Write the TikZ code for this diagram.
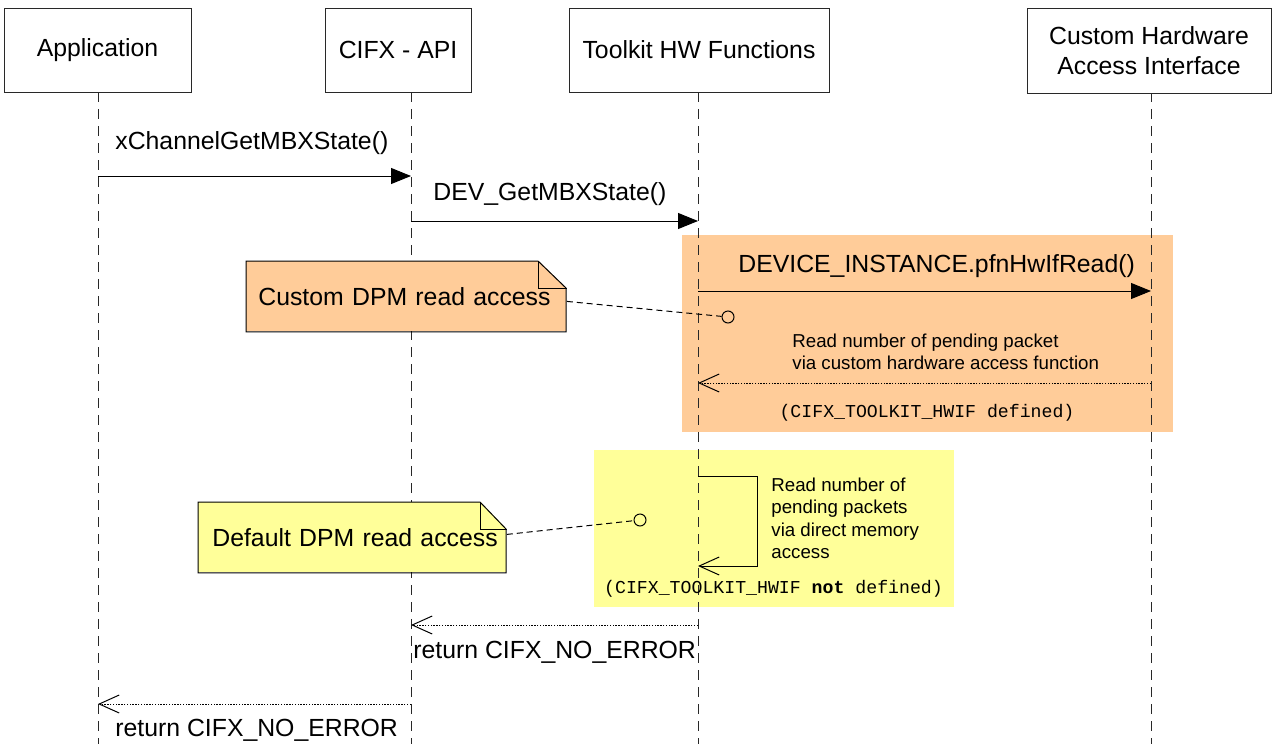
\documentclass[tikz,border=0pt]{standalone}
\usepackage{fontspec}
\setmainfont{Liberation Sans}
\setmonofont{Liberation Mono}
\usetikzlibrary{positioning, arrows.meta}

\definecolor{noteorange}{RGB}{255,204,153}
\definecolor{noteyellow}{RGB}{255,255,153}
\definecolor{linegray}{RGB}{40,40,40}

\tikzset{
  actor/.style={draw=linegray, fill=white, line width=0.5pt, minimum height=42pt, align=center},
  life/.style={draw=linegray, line width=0.45pt, dash pattern=on 5pt off 3.5pt},
  call/.style={-{Triangle[length=10pt,width=8pt]}, line width=0.5pt},
  reply/.style={-{Straight Barb[length=10pt,width=9pt]}, line width=0.5pt, dash pattern=on 0.7pt off 0.7pt},
  selfreply/.style={-{Straight Barb[length=10pt,width=9pt]}, line width=0.5pt},
  msg/.style={anchor=west, inner sep=0pt},
  small/.style={anchor=west, inner sep=0pt, align=left, font=\fontsize{9.35}{11.25}\selectfont},
  mono/.style={inner sep=0pt, font=\fontsize{9.1}{11}\selectfont\ttfamily},
  notebox/.style={anchor=north west, minimum height=35pt, inner ysep=0pt, align=left},
  link/.style={line width=0.5pt, dash pattern=on 3pt off 2pt},
  hook/.style={circle, draw, line width=0.5pt, inner sep=0pt, minimum size=6pt}
}

\begin{document}
\begin{tikzpicture}[x=0.5pt, y=-0.5pt, font=\fontsize{12.4}{15}\selectfont]
\useasboundingbox (0,0) rectangle (1272,744);

% conditional regions
\fill[noteorange] (682,235) rectangle (1173,432);
\fill[noteyellow] (594,450) rectangle (954,607);

% lifelines
\foreach \n/\x in {app/98, api/411, tk/698, hw/1151} {
  \coordinate (\n top) at (\x,92);
  \coordinate (\n bot) at (\x,744);
  \draw[life] (\n top) -- (\n bot);
}

\node[actor, minimum width=93.5pt] (app) at (97.5,50) {Application};
\node[actor, minimum width=73pt] (api) at (398,50) {CIFX - API};
\node[actor, minimum width=130pt] (tk) at (699,50) {Toolkit HW Functions};
\node[actor, minimum width=122pt, minimum height=42.5pt] (hw) at (1149,50.5) {Custom Hardware\\Access Interface};

% calls
\coordinate (app1) at (98,176);  \coordinate (api1) at (411,176);
\coordinate (api2) at (411,221); \coordinate (tk2) at (698,221);
\coordinate (tk3) at (698,291);  \coordinate (hw3) at (1151,291);
\draw[call] (app1) -- (api1);
\draw[call] (api2) -- (tk2);
\draw[call] (tk3) -- (hw3);
\node[msg] (m1) at (115,143) {xChannelGetMBXState()};
\node[msg] (m2) at (433,194) {DEV\_GetMBXState()};
\node[msg] (m3) at (738,266) {DEVICE\_INSTANCE.pfnHwIfRead()};

% custom access
\coordinate (hw4) at (1151,383); \coordinate (tk4) at (698,383);
\draw[reply] (hw4) -- (tk4);
\node[small] (r4) at (792,352) {Read number of pending packet\\via custom hardware access function};
\node[mono] (c4) at (927,413) {(CIFX\_TOOLKIT\_HWIF defined)};

% default access
\coordinate (tk5) at (698,476); \coordinate (tk6) at (698,566);
\draw[selfreply] (tk5) -- ++(59,0) |- (tk6);
\node[small] (r5) at (771,518.5) {Read number of\\pending packets\\via direct memory\\access};
\node[mono] (c5) at (773.5,589) {(CIFX\_TOOLKIT\_HWIF \textbf{not} defined)};

% returns
\coordinate (tk7) at (698,625);  \coordinate (api7) at (411,625);
\coordinate (api8) at (411,704); \coordinate (app8) at (98,704);
\draw[reply] (tk7) -- (api7);
\draw[reply] (api8) -- (app8);
\node[msg] (ret1) at (413,652) {return CIFX\_NO\_ERROR};
\node[msg] (ret2) at (115,730) {return CIFX\_NO\_ERROR};

% notes
\node[notebox, fill=noteorange, text width=148pt, inner xsep=6pt] (custNote) at (246,261) {\mbox{Custom DPM read access}};
\fill[white] (custNote.north east) -- ++(-28,0) -- ++(28,27) -- cycle;
\draw[line width=0.5pt] (custNote.north west) -- ++(292,0) -- ++(28,27) |- (custNote.south west) -- cycle;
\draw[line width=0.5pt] ([xshift=-14pt]custNote.north east) -- ++(0,27) -- ++(28,0);
\node[hook] (custHook) at (728,317) {};
\draw[link] ([yshift=-2.5pt]custNote.east) -- (custHook);

\node[notebox, fill=noteyellow, text width=140pt, inner xsep=7pt] (defNote) at (198,502) {\mbox{Default DPM read access}};
\fill[white] (defNote.north east) -- ++(-26,0) -- ++(26,27) -- cycle;
\draw[line width=0.5pt] (defNote.north west) -- ++(282,0) -- ++(26,27) |- (defNote.south west) -- cycle;
\draw[line width=0.5pt] ([xshift=-13pt]defNote.north east) -- ++(0,27) -- ++(26,0);
\node[hook] (defHook) at (640,520) {};
\draw[link] ([yshift=1.5pt]defNote.east) -- (defHook);

\end{tikzpicture}
\end{document}
